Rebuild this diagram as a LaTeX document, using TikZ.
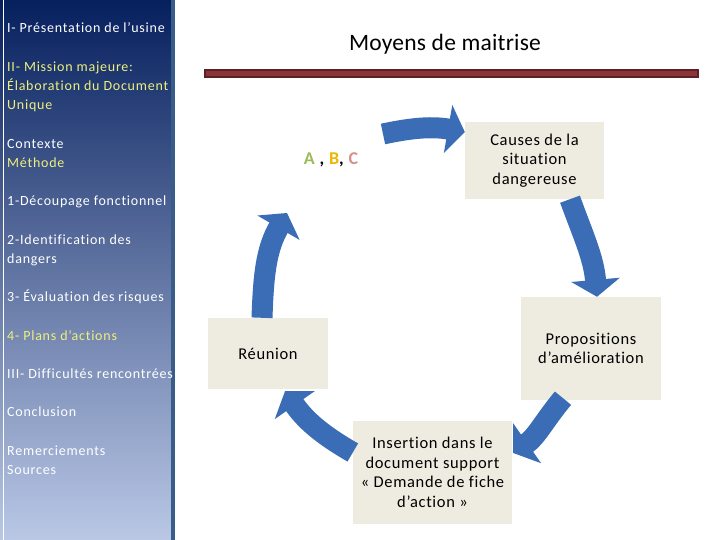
\documentclass[tikz,border=0pt]{standalone}
\usepackage{fontspec}
\setmainfont[Ligatures=NoCommon]{Carlito}
\newfontfamily\menufont[LetterSpace=5.5, Ligatures=NoCommon]{Carlito}
\newfontfamily\stagefont[LetterSpace=4, Ligatures=NoCommon]{Carlito}
\newfontfamily\titlefont[LetterSpace=1, Ligatures=NoCommon]{Carlito}
\usepackage{xcolor}
\usetikzlibrary{arrows.meta, positioning}

\definecolor{panelTop}{HTML}{06205E}
\definecolor{panelMid}{HTML}{3E5C9C}
\definecolor{panelBot}{HTML}{BAC8E6}
\definecolor{panelEdge}{HTML}{385D8A}
\definecolor{menuYellow}{HTML}{EEF07C}
\definecolor{stageFill}{HTML}{EEECE1}
\definecolor{cycleBlue}{HTML}{3A6DB5}
\definecolor{barRed}{HTML}{8C3539}
\definecolor{barEdge}{HTML}{5E2026}
\definecolor{letterA}{HTML}{9BBB59}
\definecolor{letterB}{HTML}{EDB600}
\definecolor{letterC}{HTML}{D4928F}

\begin{document}
\begin{tikzpicture}[x=1pt, y=1pt,
    menu/.style={anchor=base west, inner sep=0pt, text=white, font=\menufont\fontsize{14}{19}\selectfont},
    menuhi/.style={menu, text=menuYellow},
    stage/.style={rectangle, fill=stageFill, align=center, inner sep=0pt, font=\stagefont\fontsize{16.5}{19.5}\selectfont},
    cycle/.style={-{Triangle[length=17pt, width=48pt]}, line width=21pt, draw=cycleBlue}
]
\useasboundingbox (0,0) rectangle (720,540);

% left menu panel
\shade[top color=panelTop, middle color=panelMid, bottom color=panelBot] (0,0) rectangle (171,540);
\draw[panelEdge, line width=3.5pt] (172.75,0) -- (172.75,540);
\draw[white, line width=1pt] (3,0) -- (3,540);

\node[menu] (m1) at (7,507) {I- Présentation de l’usine};
\node[menuhi] (m2) at (7,468) {II- Mission majeure:};
\node[menuhi] (m3) at (7,449) {Élaboration du Document};
\node[menuhi] (m4) at (7,430) {Unique};
\node[menu] (m5) at (7,391) {Contexte};
\node[menuhi] (m6) at (7,372) {Méthode};
\node[menu] (m7) at (7,334) {1-Découpage fonctionnel};
\node[menu] (m8) at (7,295) {2-Identification des};
\node[menu] (m9) at (7,276) {dangers};
\node[menu] (m10) at (7,238) {3- Évaluation des risques};
\node[menuhi] (m11) at (7,199) {4- Plans d’actions};
\node[menu] (m12) at (7,161) {III- Difficultés rencontrées};
\node[menu] (m13) at (7,123) {Conclusion};
\node[menu] (m14) at (7,84) {Remerciements};
\node[menu] (m15) at (7,65) {Sources};

% title and bar
\node[font=\titlefont\fontsize{23.5}{26}\selectfont] (title) at (445,496) {Moyens de maitrise};
\draw[barEdge, fill=barRed, line width=1.2pt] (205,463) rectangle (698,470);

% cycle boxes
\node[stage, minimum width=139pt, minimum height=77pt] (causes) at (534.5,379.5) {Causes de la\\situation\\dangereuse};
\node[stage, minimum width=140pt, minimum height=103pt] (props) at (591,191.5) {Propositions\\d’amélioration};
\node[stage, minimum width=159pt, minimum height=103pt] (insert) at (432.5,67.5) {Insertion dans le\\document support\\« Demande de fiche\\d’action »};
\node[stage, minimum width=120pt, minimum height=71pt] (reunion) at (268,186.5) {Réunion};
\node[font=\stagefont\fontsize{18}{20}\selectfont\bfseries] (abc) at (331,380) {\textcolor{letterA}{A} , \textcolor{letterB}{B}, \textcolor{letterC}{C}};

\coordinate (start) at (383,406);
\coordinate (back) at (287,327);

\draw[cycle] (start) to[out=12, in=170] ([yshift=28.5]causes.west);
\draw[cycle] ([xshift=35.5]causes.south) to[out=-70, in=95] ([xshift=6]props.north);
\draw[cycle] ([xshift=-28, yshift=2]props.south) to[out=-130, in=35] ([xshift=1, yshift=19.5]insert.east);
\draw[cycle] ([yshift=20]insert.west) to[out=150, in=-55] ([xshift=17, yshift=-2]reunion.south);
\draw[cycle] ([xshift=-6]reunion.north) to[out=88, in=-120] (back);
\end{tikzpicture}
\end{document}
